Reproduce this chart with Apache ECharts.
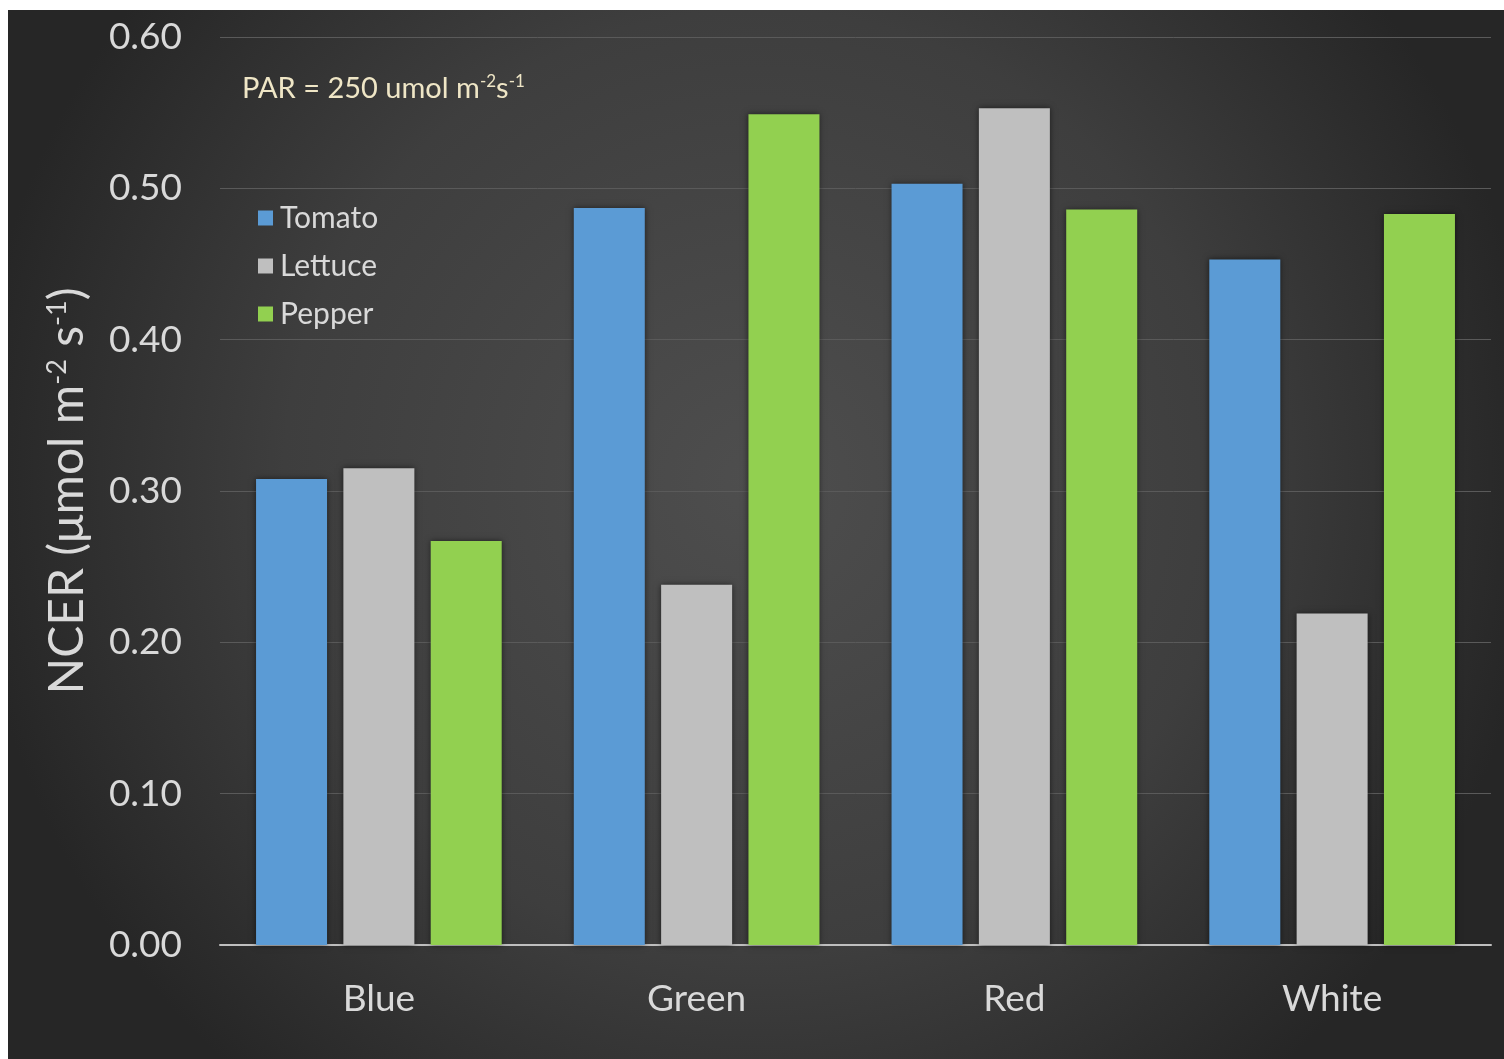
<!DOCTYPE html>
<html>
<head>
<meta charset="utf-8">
<script src="https://cdn.jsdelivr.net/npm/echarts@6/dist/echarts.min.js"></script>
<style>
html,body{margin:0;padding:0;background:#ffffff;width:1504px;height:1059px;overflow:hidden;}
#c{position:absolute;left:8px;top:10px;width:1496px;height:1049px;}
</style>
</head>
<body>
<div id="c"></div>
<script>
const categories = ['Blue', 'Green', 'Red', 'White'];
const tomato  = [0.308, 0.487, 0.503, 0.453];
const lettuce = [0.315, 0.238, 0.553, 0.219];
const pepper  = [0.267, 0.549, 0.486, 0.483];
const seriesNames = ['Tomato', 'Lettuce', 'Pepper'];

const chart = echarts.init(document.getElementById('c'));
const font = 'Lato, "Open Sans", sans-serif';
const barShadow = {shadowColor:'rgba(0,0,0,0.55)', shadowBlur:6, shadowOffsetX:0, shadowOffsetY:0};

chart.setOption({
  backgroundColor: {
    type:'radial', x:0.5, y:0.45, r:0.75,
    colorStops:[{offset:0,color:'#4e4e4e'},{offset:0.6,color:'#3e3e3e'},{offset:1,color:'#262626'}]
  },
  animation:false,
  textStyle:{fontFamily:font},
  title:{
    left:229, top:57,
    text:'{a|PAR = 250 umol m}{s|-2}{a|s}{s|-1}',
    textStyle:{
      rich:{
        a:{fontFamily:font, fontSize:29, fontWeight:'normal', color:'#efe6c6', lineHeight:34},
        s:{fontFamily:font, fontSize:17, fontWeight:'normal', color:'#efe6c6', lineHeight:34, padding:[0,0,14,0]}
      }
    }
  },
  legend:{
    orient:'vertical', left:245, top:187,
    itemWidth:15, itemHeight:15, itemGap:16, icon:'rect',
    data:seriesNames,
    textStyle:{color:'#d9d9d9', fontSize:30, fontFamily:font, lineHeight:32, padding:[0,0,0,2]}
  },
  grid:{left:212, right:13, top:27, bottom:114, containLabel:false},
  xAxis:{
    type:'category', data:categories,
    axisLine:{lineStyle:{color:'#bfbfbf', width:2}},
    axisTick:{show:false},
    axisLabel:{color:'#d9d9d9', fontSize:37, fontFamily:font, margin:36}
  },
  yAxis:{
    type:'value', min:0, max:0.6, interval:0.1,
    axisLine:{show:false}, axisTick:{show:false},
    splitLine:{lineStyle:{color:'#5a5a5a', width:1}},
    axisLabel:{color:'#d9d9d9', fontSize:37, fontFamily:font, margin:38, formatter:v=>v.toFixed(2)},
    name:'{a|NCER (μmol m}{s|-2}{a| s}{s|-1}{a|)}',
    nameLocation:'middle', nameRotate:90, nameGap:124,
    nameTextStyle:{
      rich:{
        a:{fontFamily:font, fontSize:48, color:'#d9d9d9', lineHeight:56},
        s:{fontFamily:font, fontSize:27, color:'#d9d9d9', lineHeight:56, padding:[0,0,22,0]}
      }
    }
  },
  series:[
    {name:'Tomato', type:'bar', data:tomato, barWidth:71, barGap:'23%', itemStyle:Object.assign({color:'#5b9bd5'}, barShadow)},
    {name:'Lettuce', type:'bar', data:lettuce, barWidth:71, barGap:'23%', itemStyle:Object.assign({color:'#bfbfbf'}, barShadow)},
    {name:'Pepper', type:'bar', data:pepper, barWidth:71, barGap:'23%', itemStyle:Object.assign({color:'#92d050'}, barShadow)}
  ]
});
</script>
</body>
</html>
